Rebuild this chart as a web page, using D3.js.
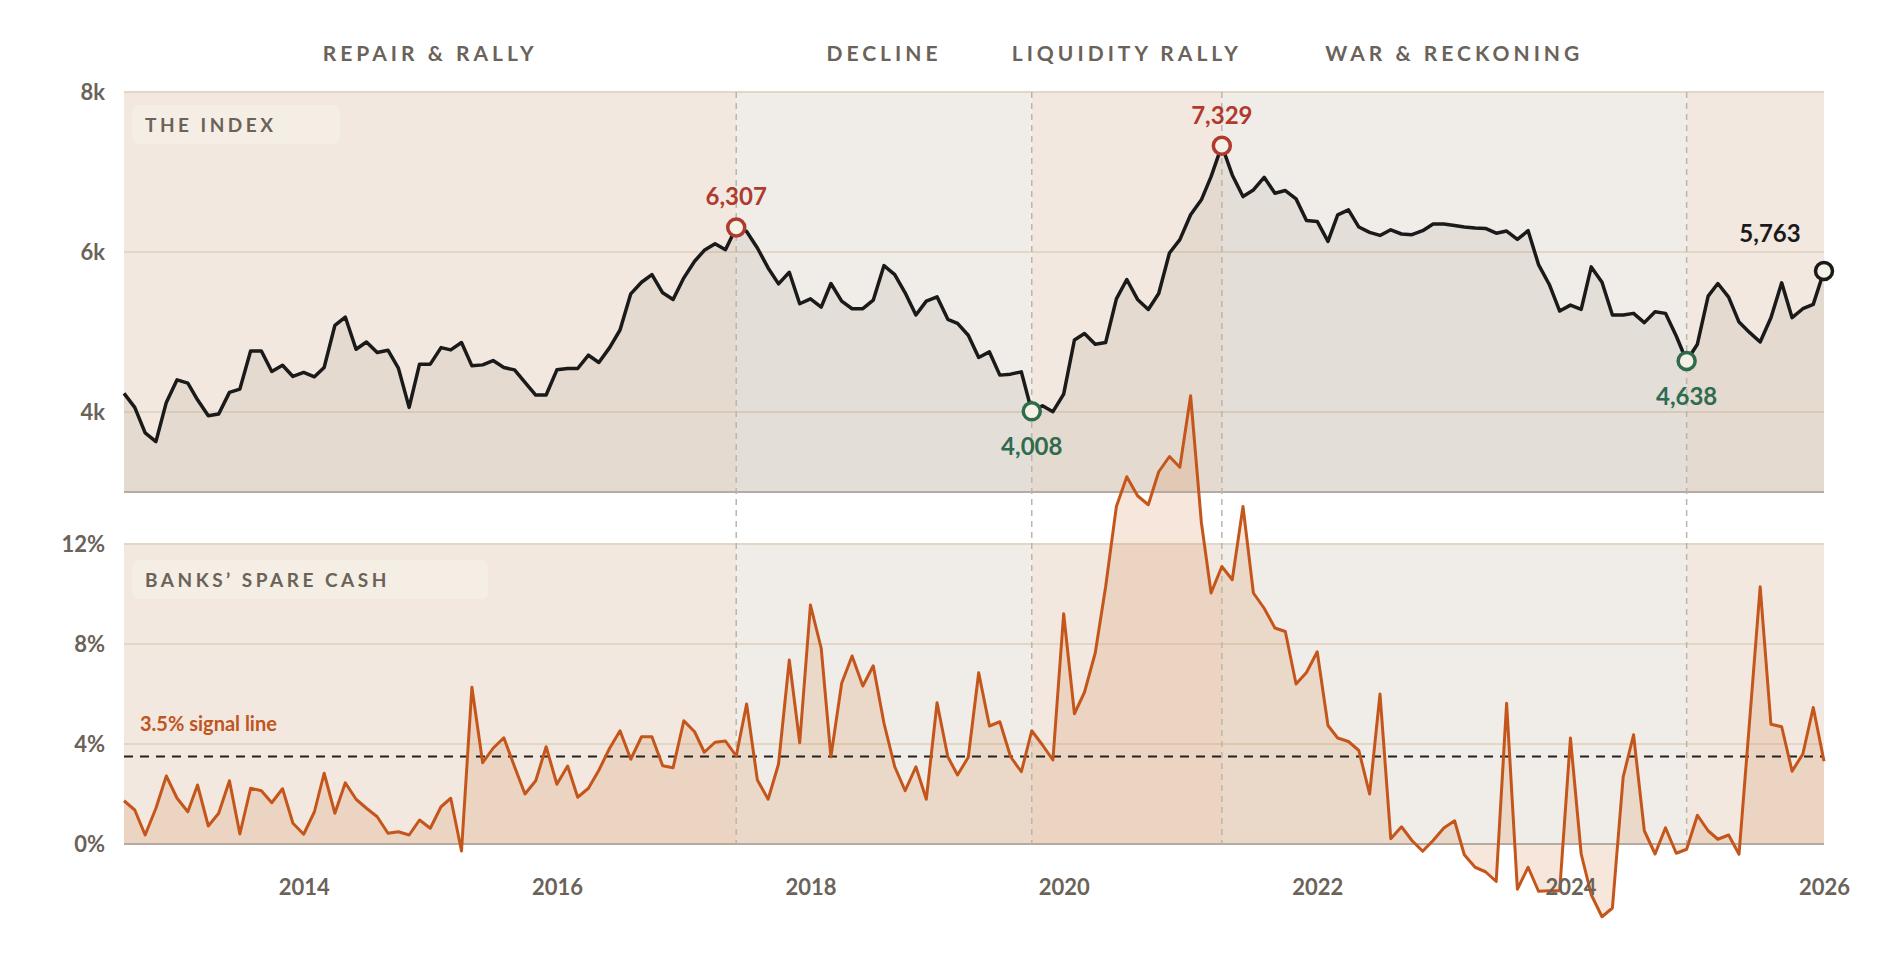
<!DOCTYPE html>
<html><head><meta charset="utf-8">
<script src="https://cdn.jsdelivr.net/npm/d3@7"></script>
<style>body{margin:0;background:#fff}svg{display:block}text{font-family:Lato,"Open Sans",sans-serif;font-weight:700}</style>
</head><body><svg id="c" width="1880" height="978"></svg>
<script>
// Monthly data, Aug 2012 .. Jan 2026
const startYear = 2012, startMonth = 7; // Aug (0-based)
const indexValues = [4233,4058,3739,3630,4120,4402,4361,4153,3954,3975,4245,4286,4763,4763,4507,4585,4444,4494,4440,4556,
5083,5187,4784,4875,4743,4772,4548,4058,4598,4598,4805,4776,4868,4577,4589,4643,4556,4527,4370,4212,
4212,4527,4544,4544,4710,4619,4805,5025,5477,5622,5718,5490,5407,5677,5884,6021,6104,6029,6307,6257,
6050,5801,5602,5747,5353,5415,5311,5606,5386,5291,5291,5398,5830,5718,5490,5212,5386,5440,5158,5108,
4959,4681,4751,4461,4473,4502,4008,4078,4004,4224,4900,4980,4847,4868,5415,5656,5407,5282,5481,5988,
6154,6465,6652,6942,7329,6963,6693,6776,6934,6735,6768,6664,6394,6382,6133,6465,6527,6312,6245,6207,
6278,6225,6216,6266,6349,6349,6332,6312,6300,6295,6235,6262,6158,6266,5843,5594,5262,5336,5282,5814,
5622,5212,5212,5233,5117,5254,5233,4950,4638,4847,5448,5606,5436,5124,4992,4875,5179,5615,5179,5291,
5345,5763];
const cashValues = [1.73,1.36,0.36,1.43,2.72,1.83,1.29,2.36,0.72,1.23,2.53,0.4,2.23,2.13,1.65,2.21,0.83,0.39,1.29,2.83,
1.23,2.45,1.79,1.43,1.09,0.43,0.49,0.36,0.96,0.63,1.49,1.83,-0.28,6.27,3.25,3.83,4.25,3.09,2.0,2.53,
3.89,2.39,3.12,1.87,2.23,2.95,3.83,4.53,3.39,4.29,4.29,3.13,3.05,4.93,4.49,3.67,4.07,4.12,3.52,5.6,
2.56,1.79,3.2,7.36,4.05,9.56,7.83,3.49,6.43,7.52,6.32,7.13,4.83,3.09,2.13,3.09,1.79,5.65,3.49,2.76,
3.47,6.85,4.72,4.89,3.49,2.89,4.53,3.96,3.36,9.21,5.21,6.07,7.64,10.29,13.5,14.69,13.93,13.57,14.89,15.5,
15.07,17.93,12.86,10.04,11.1,10.57,13.5,10.04,9.43,8.64,8.5,6.4,6.86,7.69,4.74,4.24,4.1,3.74,2.0,6.0,
0.21,0.69,0.14,-0.29,0.14,0.64,0.93,-0.43,-0.93,-1.11,-1.5,5.63,-1.81,-0.93,-1.89,-1.87,-1.87,4.24,-0.4,-2.03,
-2.91,-2.56,2.68,4.37,0.53,-0.4,0.65,-0.37,-0.21,1.15,0.53,0.19,0.36,-0.41,5.0,10.29,4.79,4.69,2.91,3.6,
5.46,3.31];
const regimeNames = ["REPAIR & RALLY","DECLINE","LIQUIDITY RALLY","WAR & RECKONING",""];
const regimeBreaks = [58,86,104,148]; // month indices of peaks/troughs
const annotations = [{i:58,label:"6,307",kind:"peak"},{i:86,label:"4,008",kind:"trough"},{i:104,label:"7,329",kind:"peak"},{i:148,label:"4,638",kind:"trough"},{i:161,label:"5,763",kind:"last"}];
const indexTicks = [4000,6000,8000];
const indexTickLabels = ["4k","6k","8k"];
const cashTicks = [0,4,8,12];
const yearTicks = [2014,2016,2018,2020,2022,2024,2026];
const signalLevel = 3.5;

const dates = indexValues.map((_,i)=>new Date(startYear, startMonth+i, 1));
const svg = d3.select("#c");
const L=124,R=1824;
const x = d3.scaleTime().domain([dates[0], dates[dates.length-1]]).range([L,R]);
const yI = d3.scaleLinear().domain([3000,8000]).range([492,92]);
const yC = d3.scaleLinear().domain([0,12]).range([844,544]);
const bounds = [0,...regimeBreaks,dates.length-1];
const colA="#f2e8df", colB="#f0ede8";
const ink="#6b6259";

// backgrounds
[[yI(8000),yI(3000)],[yC(12),yC(0)]].forEach(([t,b])=>{
  for(let k=0;k<bounds.length-1;k++){
    svg.append("rect").attr("x",x(dates[bounds[k]])).attr("y",t)
      .attr("width",x(dates[bounds[k+1]])-x(dates[bounds[k]])).attr("height",b-t)
      .attr("fill",k%2===0?colA:colB);
  }
});
// gridlines
indexTicks.forEach(v=>svg.append("line").attr("x1",L).attr("x2",R).attr("y1",yI(v)).attr("y2",yI(v)).attr("stroke","#e2d6c6").attr("stroke-width",2));
cashTicks.forEach(v=>svg.append("line").attr("x1",L).attr("x2",R).attr("y1",yC(v)).attr("y2",yC(v)).attr("stroke","#e2d6c6").attr("stroke-width",2));

// index area + line
svg.append("path").datum(indexValues).attr("fill","rgba(120,100,80,0.1)")
  .attr("d",d3.area().x((d,i)=>x(dates[i])).y0(yI(3000)).y1(d=>yI(d)));
// cash area
svg.append("path").datum(cashValues).attr("fill","rgba(214,140,90,0.22)")
  .attr("d",d3.area().x((d,i)=>x(dates[i])).y0(yC(0)).y1(d=>yC(d)));

// axis baselines
svg.append("line").attr("x1",L).attr("x2",R).attr("y1",yI(3000)).attr("y2",yI(3000)).attr("stroke","#b5aba0").attr("stroke-width",2);
svg.append("line").attr("x1",L).attr("x2",R).attr("y1",yC(0)).attr("y2",yC(0)).attr("stroke","#b5aba0").attr("stroke-width",2);

// vertical regime lines
regimeBreaks.forEach(i=>svg.append("line").attr("x1",x(dates[i])).attr("x2",x(dates[i])).attr("y1",yI(8000)).attr("y2",yC(0))
  .attr("stroke","#bdb4aa").attr("stroke-width",1.5).attr("stroke-dasharray","6,5"));

// signal line
svg.append("line").attr("x1",L).attr("x2",R).attr("y1",yC(signalLevel)).attr("y2",yC(signalLevel))
  .attr("stroke","#222").attr("stroke-width",2.2).attr("stroke-dasharray","9,7");
svg.append("text").attr("x",140).attr("y",731).attr("fill","#c0551e").attr("font-size",20).text("3.5% signal line");

svg.append("path").datum(cashValues).attr("fill","none").attr("stroke","#c4561c").attr("stroke-width",3).attr("stroke-linejoin","round")
  .attr("d",d3.line().x((d,i)=>x(dates[i])).y(d=>yC(d)));
svg.append("path").datum(indexValues).attr("fill","none").attr("stroke","#1a1a1a").attr("stroke-width",3.5).attr("stroke-linejoin","round")
  .attr("d",d3.line().x((d,i)=>x(dates[i])).y(d=>yI(d)));

// panel labels
[[105,"THE INDEX",208],[560,"BANKS\u2019 SPARE CASH",356]].forEach(([y,t,w])=>{
  svg.append("rect").attr("x",132).attr("y",y).attr("width",w).attr("height",39).attr("rx",7).attr("fill","#f5eee4");
  svg.append("text").attr("x",145).attr("y",y+27).attr("fill",ink).attr("font-size",19).attr("letter-spacing",3.5).text(t);
});

// regime titles
for(let k=0;k<regimeNames.length;k++){
  if(!regimeNames[k]) continue;
  const cx=(x(dates[bounds[k]])+x(dates[bounds[k+1]]))/2;
  svg.append("text").attr("x",cx).attr("y",61).attr("text-anchor","middle").attr("fill",ink).attr("font-size",21).attr("letter-spacing",4).text(regimeNames[k]);
}

// y axes
svg.append("g").attr("transform",`translate(${L},0)`).call(d3.axisLeft(yI).tickValues(indexTicks).tickFormat((d,i)=>indexTickLabels[i]).tickSize(0).tickPadding(19))
  .call(g=>{g.select(".domain").remove();g.selectAll("text").attr("fill",ink).attr("font-size",22).style("font-family","Lato").style("font-weight",700);});
svg.append("g").attr("transform",`translate(${L},0)`).call(d3.axisLeft(yC).tickValues(cashTicks).tickFormat(d=>d+"%").tickSize(0).tickPadding(19))
  .call(g=>{g.select(".domain").remove();g.selectAll("text").attr("fill",ink).attr("font-size",22).style("font-family","Lato").style("font-weight",700);});
// x axis
svg.append("g").attr("transform",`translate(0,${yC(0)})`).call(d3.axisBottom(x).tickValues(yearTicks.map(y=>new Date(y,0,1))).tickFormat(d3.timeFormat("%Y")).tickSize(0).tickPadding(35))
  .call(g=>{g.select(".domain").remove();g.selectAll("text").attr("fill",ink).attr("font-size",22).style("font-family","Lato").style("font-weight",700);});

// annotations
const colors={peak:"#b03a2e",trough:"#2e6b4f",last:"#1a1a1a"};
annotations.forEach(a=>{
  const cx=x(dates[a.i]), cy=yI(indexValues[a.i]);
  svg.append("circle").attr("cx",cx).attr("cy",cy).attr("r",8.5).attr("fill","#f6f1e7").attr("stroke",colors[a.kind]).attr("stroke-width",3.5);
  const t=svg.append("text").attr("fill",colors[a.kind]).attr("font-size",24).attr("text-anchor","middle").text(a.label);
  if(a.kind==="peak") t.attr("x",cx).attr("y",cy-22);
  else if(a.kind==="trough") t.attr("x",cx).attr("y",cy+44);
  else t.attr("x",cx-54).attr("y",cy-29);
});
</script></body></html>
